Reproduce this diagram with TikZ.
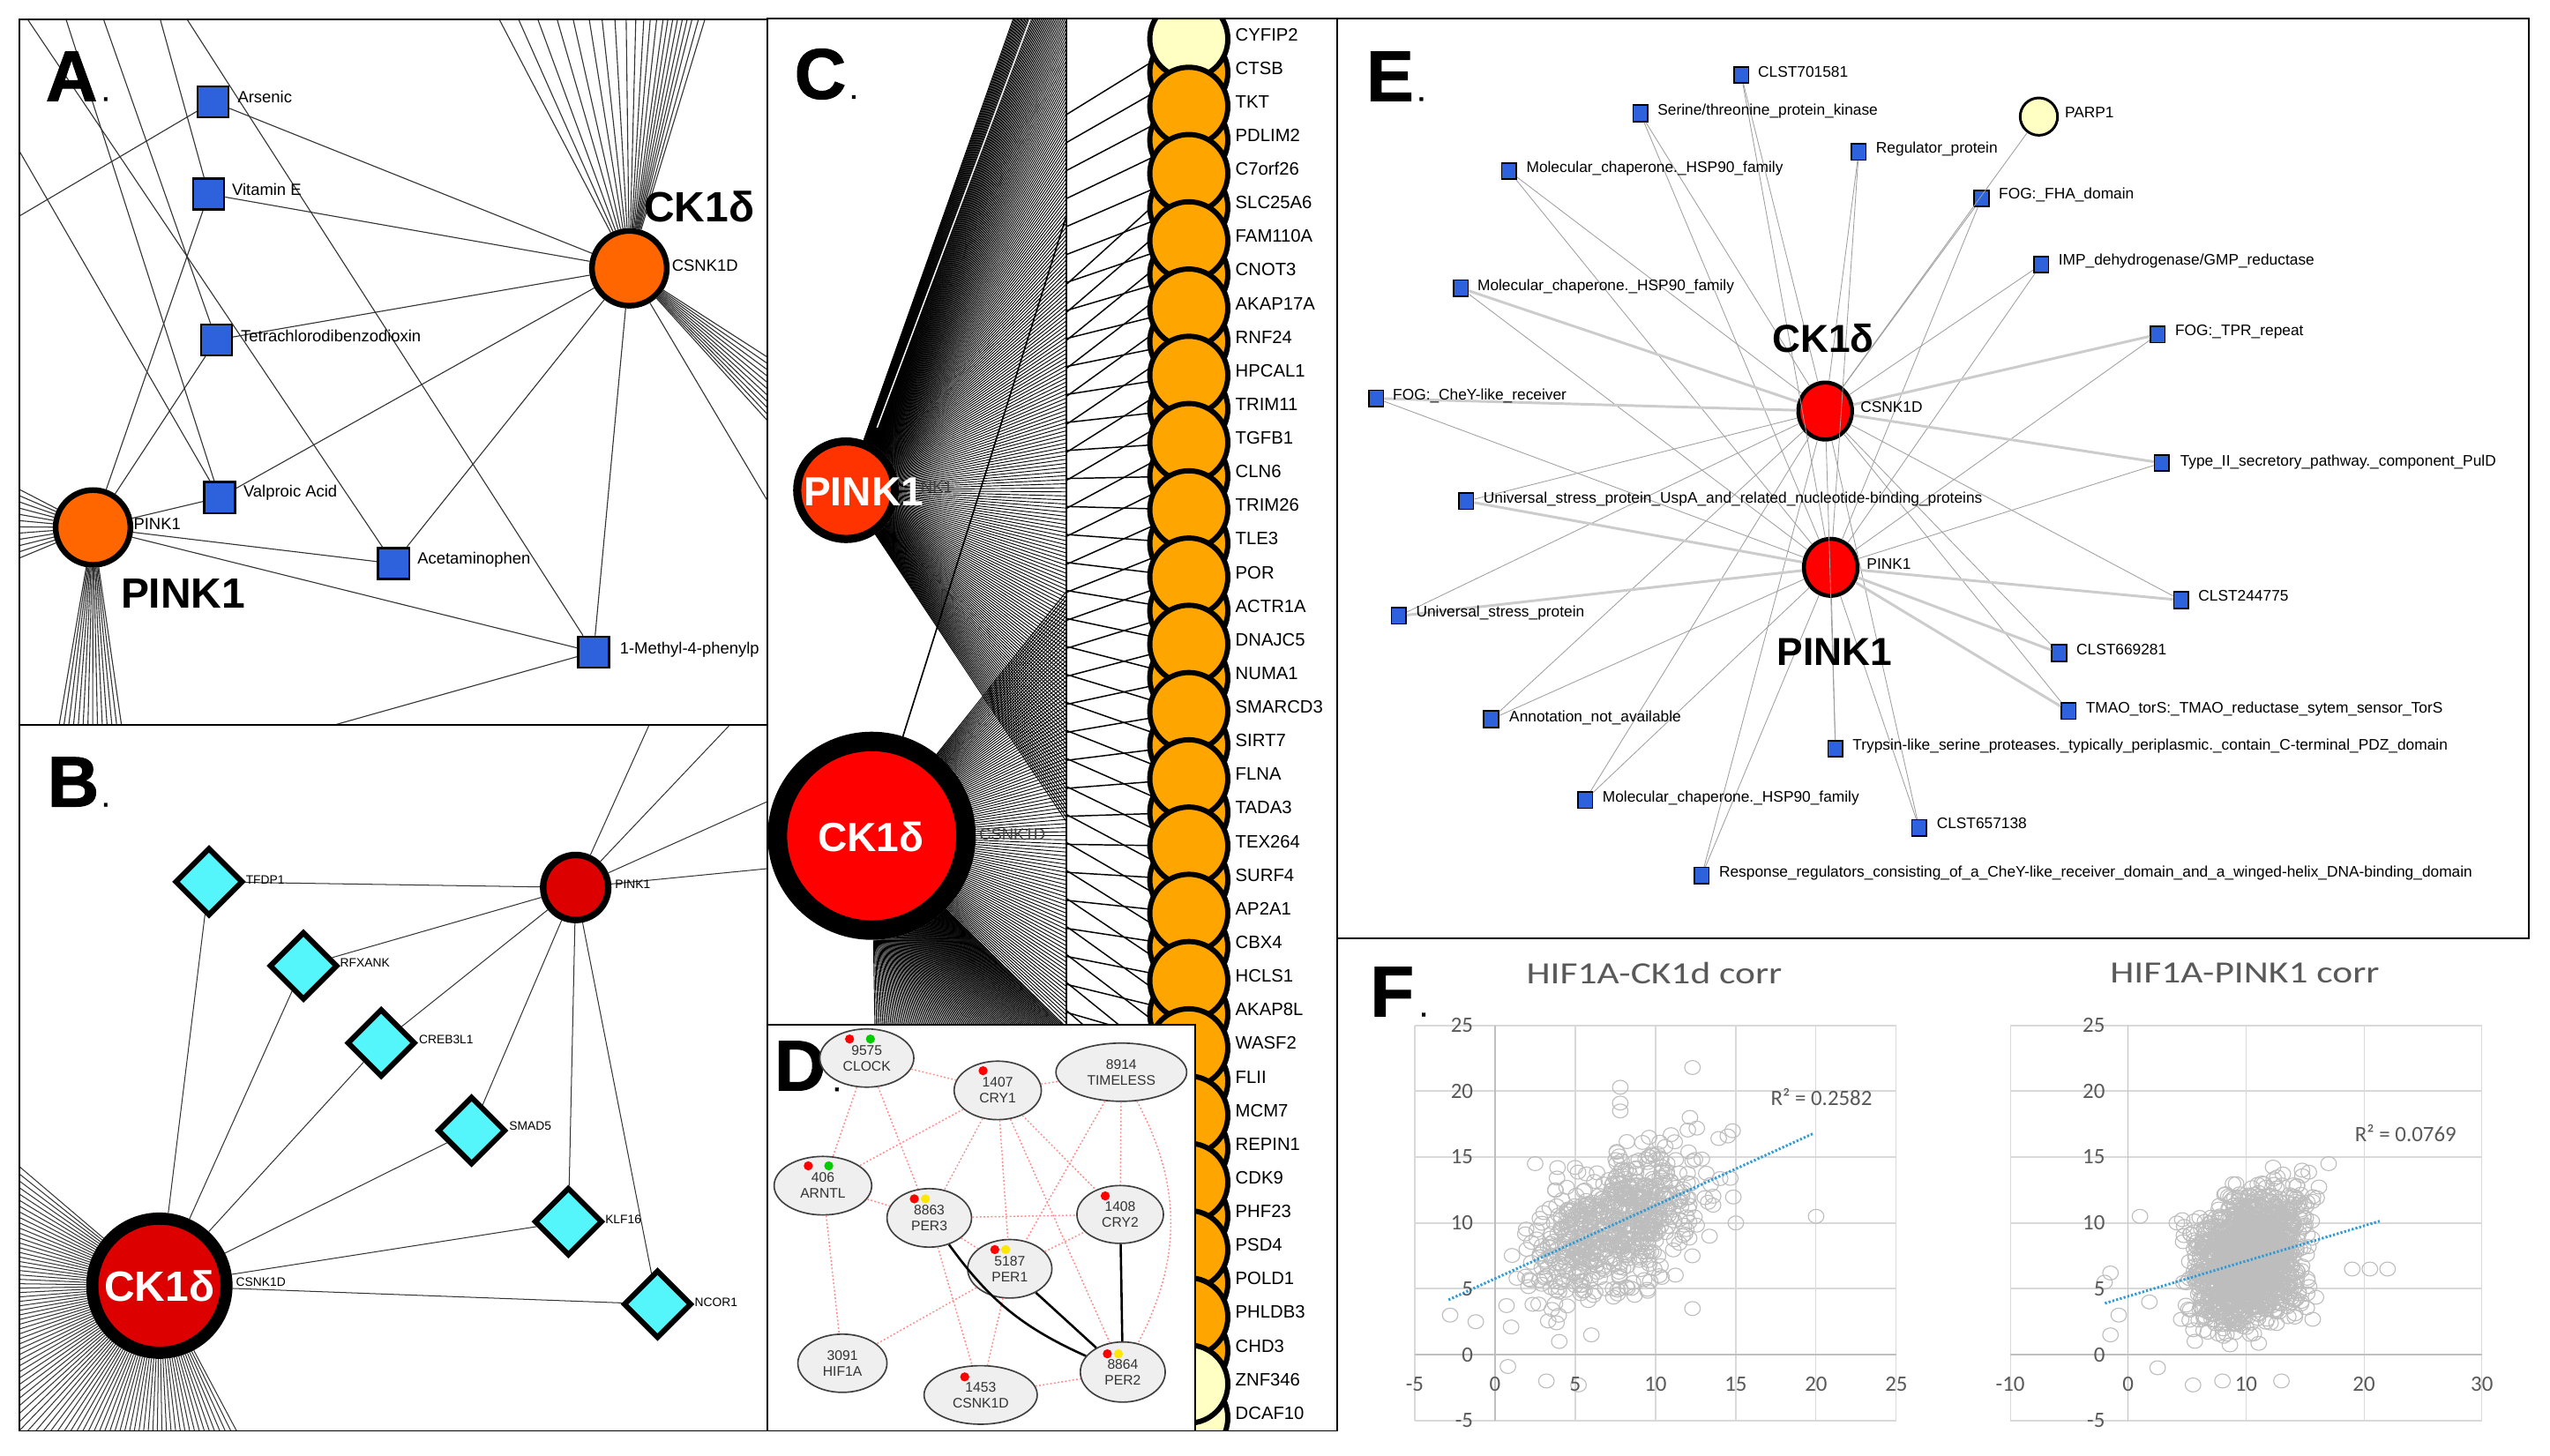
\documentclass[tikz,border=0pt]{standalone}
\usepackage{fontspec}
\setmainfont{Liberation Sans}
\newfontfamily\calib{Carlito}
\newfontfamily\heavyfont[FakeBold=1.2]{Liberation Sans}
\usepackage{graphicx}
\usetikzlibrary{shapes.geometric,calc}
\newcommand\fsz[1]{\fontsize{#1}{#1}\selectfont}
\definecolor{sqblue}{HTML}{2D62DC}
\definecolor{aorange}{HTML}{FF6600}
\definecolor{bred}{HTML}{DD0000}
\definecolor{cyanD}{HTML}{55F6FB}
\definecolor{pkred}{HTML}{FF3300}
\definecolor{colorange}{HTML}{FFA500}
\definecolor{colyellow}{HTML}{FFFFC4}
\definecolor{dfill}{HTML}{EFEFEF}
\definecolor{dedgec}{HTML}{FF8A8A}
\definecolor{xlgray}{HTML}{595959}
\definecolor{gridc}{HTML}{D9D9D9}
\definecolor{axisc}{HTML}{BFBFBF}
\definecolor{scatc}{HTML}{BDBDBD}
\definecolor{trendc}{HTML}{2E9AD6}
\tikzset{
 frame/.style={draw=black, line width=1pt},
 eA/.style={draw=black!80, line width=0.6pt},
 hubA/.style={circle, draw=black, line width=3.5pt, fill=aorange, minimum size=46pt, inner sep=0pt},
 sqA/.style={rectangle, draw=black, line width=1.3pt, fill=sqblue, minimum size=19pt, inner sep=0pt},
 lblA/.style={anchor=west, inner sep=0pt, font=\fsz{10}, text height=7.2pt, text depth=0pt},
 bigtxt/.style={font=\bfseries\fsz{26}, inner sep=0pt},
 letter/.style={font=\heavyfont\bfseries\fsz{44}, inner sep=0pt, anchor=base},
 period/.style={font=\heavyfont\bfseries\fsz{14}, inner sep=0pt, anchor=base},
 hubB/.style={circle, draw=black, fill=bred, inner sep=0pt},
 diaB/.style={diamond, aspect=1, draw=black, line width=3.3pt, fill=cyanD, minimum size=42pt, inner sep=0pt},
 eB/.style={draw=black!80, line width=0.55pt},
 lblB/.style={anchor=west, inner sep=0pt, font=\fsz{7.5}, text height=5.4pt, text depth=0pt},
 fan/.style={draw=black, line width=0.5pt},
 zig/.style={draw=black, line width=0.8pt},
 colnode/.style={circle, draw=black, line width=3.2pt, minimum size=48pt, inner sep=0pt},
 lblC/.style={anchor=west, inner sep=0pt, font=\fsz{11}, text height=7.9pt, text depth=0pt},
 lblCs/.style={anchor=west, inner sep=0pt, font=\fsz{10}, text=black!75, text height=7.2pt, text depth=0pt},
 dell/.style={ellipse, draw=black!75, line width=0.9pt, fill=dfill, inner sep=0pt, align=center, font=\fontsize{8.5}{9.8}\selectfont, text=black!80},
 dedge/.style={draw=dedgec, line width=0.8pt, dash pattern=on 1pt off 1.3pt},
 dsolid/.style={draw=black, line width=1.4pt},
 hubE/.style={ellipse, draw=black, line width=2.5pt, fill=red, minimum width=33pt, minimum height=35pt, inner sep=0pt},
 sqE/.style={rectangle, draw=black, line width=0.9pt, fill=sqblue, minimum width=9pt, minimum height=10pt, inner sep=0pt},
 eE/.style={draw=black!38, line width=0.45pt},
 eEt/.style={draw=black!20, line width=1.6pt},
 lblE/.style={anchor=west, inner sep=0pt, font=\fsz{9.4}, text height=6.7pt, text depth=0pt},
 bigE/.style={font=\bfseries\fsz{24}, inner sep=0pt},
 gridh/.style={draw=gridc, line width=1.2pt},
 gridv/.style={draw=gridc, line width=0.6pt},
 axl/.style={draw=axisc, line width=1.3pt},
 scat/.style={draw=scatc, line width=0.6pt},
 trendl/.style={draw=trendc, line width=1.6pt, dash pattern=on 1.2pt off 1.2pt},
 tickl/.style={font=\calib\fsz{13.5}, text=xlgray, inner sep=0pt},
 ftitle/.style={text=xlgray, inner sep=0pt}
}
\begin{document}
\begin{tikzpicture}[x=1pt,y=-1pt]
\useasboundingbox (0,0) rectangle (1568,895);
\fill[white] (0,0) rectangle (1568,895);

%%%%%%%%%%%%%%%% PANEL A
\begin{scope}
\clip (12,12) rectangle (472,446);
\node[hubA] (ckA) at (387,165) {};
\node[hubA] (pkA) at (57.2,324.4) {};
\node[sqA] (ars) at (131,62.6) {};
\node[sqA] (vite) at (128.3,119.4) {};
\node[sqA] (tcdd) at (133,209) {};
\node[sqA] (valp) at (135,306) {};
\node[sqA] (acet) at (242,346.6) {};
\node[sqA] (mptp) at (365,401) {};
\coordinate (aT1) at (15.7,10);
\coordinate (aT2) at (40,10);
\coordinate (aT3) at (63,10);
\coordinate (aT4) at (98,10);
\coordinate (aT5) at (113.8,10);
\coordinate (aL1) at (10,89.6);
\coordinate (aL2) at (10,134);
\coordinate (aB1) at (198,448);
\coordinate (aR1) at (474,311.5);
\draw[eA] (ars) -- (ckA);
\draw[eA] (vite) -- (ckA);
\draw[eA] (vite) -- (pkA);
\draw[eA] (tcdd) -- (ckA);
\draw[eA] (tcdd) -- (pkA);
\draw[eA] (valp) -- (ckA);
\draw[eA] (valp) -- (pkA);
\draw[eA] (acet) -- (ckA);
\draw[eA] (acet) -- (pkA);
\draw[eA] (mptp) -- (ckA);
\draw[eA] (mptp) -- (pkA);
\draw[eA] (aT1) -- (acet);
\draw[eA] (aT2) -- (valp);
\draw[eA] (aT3) -- (tcdd);
\draw[eA] (aT4) -- (vite);
\draw[eA] (aT5) -- (mptp);
\draw[eA] (aL1) -- (valp);
\draw[eA] (ars) -- (aL2);
\draw[eA] (mptp) -- (aB1);
\draw[eA] (ckA) -- (aR1);
\foreach \x in {306,318,330,342,352,362,370,378,385,391,396,400,404,408,411,414,417,420,423,426,430,434}
  \draw[eA] (ckA) -- (\x,10);
\foreach \y in {221,225,...,261} \draw[eA] (ckA) -- (474,\y);
\foreach \y in {300,304,...,344} \draw[eA] (pkA) -- (10,\y);
\foreach \x in {36,39,...,75} \draw[eA] (pkA) -- (\x,448);
\node[lblA] (arsL) at (146,59.5) {Arsenic};
\node[lblA] (viteL) at (142.5,116.5) {Vitamin E};
\node[lblA] (tcddL) at (148,206.5) {Tetrachlorodibenzodioxin};
\node[lblA] (valpL) at (149.5,302) {Valproic Acid};
\node[lblA] (acetL) at (256.5,343.5) {Acetaminophen};
\node[lblA] (mptpL) at (381,398.5) {1-Methyl-4-phenylp};
\node[lblA] (ckAL) at (413,163) {CSNK1D};
\node[lblA] (pkAL) at (82,322) {PINK1};
\node[bigtxt] (ckAB) at (430,127) {CK1δ};
\node[bigtxt] (pkAB) at (112.6,365) {PINK1};
\node[letter] (letA) at (44,62) {A};
\node[period] (perA) at (65,62) {.};
\end{scope}
\draw[frame] (12,12) rectangle (472,446);

%%%%%%%%%%%%%%%% PANEL B
\begin{scope}
\clip (12,446) rectangle (472,880);
\node[hubB, line width=7.5pt, minimum size=82.5pt] (ckB) at (98,790.7) {};
\node[hubB, line width=4pt, minimum size=40pt] (pkB) at (354,545.8) {};
\node[diaB] (tfdp) at (128.5,542.3) {};
\node[diaB] (rfx) at (186.6,594) {};
\node[diaB] (creb) at (234.4,641.4) {};
\node[diaB] (smad) at (290,695.3) {};
\node[diaB] (klf) at (349.5,751.3) {};
\node[diaB] (ncor) at (404.3,802.1) {};
\foreach \d in {tfdp,rfx,creb,smad,klf,ncor}{
  \draw[eB] (\d) -- (pkB);
  \draw[eB] (\d) -- (ckB);
}
\coordinate (bO1) at (400,444);
\coordinate (bO2) at (450.5,444);
\coordinate (bO3) at (474,492);
\coordinate (bO4) at (474,534);
\draw[eB] (pkB) -- (bO1);
\draw[eB] (pkB) -- (bO2);
\draw[eB] (pkB) -- (bO3);
\draw[eB] (pkB) -- (bO4);
\foreach \a in {62,63.8,...,221} \draw[eB] (ckB) -- ($(ckB)+(\a:300)$);
\node[font=\bfseries\fsz{26}, text=white, inner sep=0pt] (ckBt) at (98,790.7) {CK1δ};
\node[lblB] (tfdpL) at (151,541) {TFDP1};
\node[lblB] (rfxL) at (209,592) {RFXANK};
\node[lblB] (crebL) at (257.5,639.4) {CREB3L1};
\node[lblB] (smadL) at (313,692.2) {SMAD5};
\node[lblB] (klfL) at (372,749.6) {KLF16};
\node[lblB] (ncorL) at (427,800.7) {NCOR1};
\node[lblB] (ckBL) at (145,788.4) {CSNK1D};
\node[lblB] (pkBL) at (378,543.8) {PINK1};
\node[letter] (letB) at (45,496) {B};
\node[period] (perB) at (65,496) {.};
\end{scope}
\draw[frame] (12,446) rectangle (472,880);

%%%%%%%%%%%%%%%% PANEL C
\begin{scope}
\clip (472,11.5) rectangle (822,880);
\node[circle, draw=black, line width=5pt, fill=pkred, minimum size=60pt, inner sep=0pt] (pkC) at (520.2,301.5) {};
\node[circle, draw=black, line width=12pt, fill=red, minimum size=116pt, inner sep=0pt] (ckC) at (536,514) {};
\begin{scope}
\clip (472,11.5) rectangle (655.5,630);
\foreach \v in {-80,-77.5,...,505} \draw[fan] (pkC) -- (655.5,\v);
\foreach \v in {364,366.5,...,630} \draw[fan] (ckC) -- (655.5,\v);
\foreach \x in {538,539,...,656} \draw[fan] (ckC) -- (\x,632);
\draw[white, line width=0.8pt] (539.3,263) -- (633.7,11.3);
\coordinate (cUp) at (655.5,133.5);
\draw[line width=0.9pt] (ckC) -- (cUp);
\end{scope}
\draw[line width=1pt] (655.5,11.5) -- (655.5,630);
\foreach \i in {1,...,42}{
  \pgfmathsetmacro\yy{21+(\i-1)*20.68+3}
  \coordinate (cc\i) at (731,\yy);
}
\begin{scope}
\clip (655.5,11.5) rectangle (731,630);
\foreach \i in {1,...,42}{
  \pgfmathsetmacro\yy{21+(\i-1)*20.68+3}
  \pgfmathsetmacro\va{\yy+0.168*(301.5-\yy)}
  \pgfmathsetmacro\vb{\yy+0.168*(514-\yy)}
  \draw[zig] (655.5,\va) -- (cc\i);
  \ifnum\i>4 \draw[zig] (655.5,\vb) -- (cc\i);\fi
}
\end{scope}
\foreach \i in {2,4,...,42}{
  \ifnum\i>40 \def\colfill{colyellow}\else\def\colfill{colorange}\fi
  \node[colnode, fill=\colfill] (col\i) at (cc\i) {};
}
\foreach \i in {1,3,...,41}{
  \ifnum\i=1 \def\colfill{colyellow}\else\ifnum\i>40 \def\colfill{colyellow}\else\def\colfill{colorange}\fi\fi
  \node[colnode, fill=\colfill] (col\i) at (cc\i) {};
}
\foreach \nm [count=\i] in {CYFIP2,CTSB,TKT,PDLIM2,C7orf26,SLC25A6,FAM110A,CNOT3,AKAP17A,RNF24,HPCAL1,TRIM11,TGFB1,CLN6,TRIM26,TLE3,POR,ACTR1A,DNAJC5,NUMA1,SMARCD3,SIRT7,FLNA,TADA3,TEX264,SURF4,AP2A1,CBX4,HCLS1,AKAP8L,WASF2,FLII,MCM7,REPIN1,CDK9,PHF23,PSD4,POLD1,PHLDB3,CHD3,ZNF346,DCAF10}
  \node[lblC] (lab\i) at (759.5,{21+(\i-1)*20.68}) {\nm};
\node[lblCs] (pkCl) at (566,299.5) {NK1};
\node[lblCs] (ckCl) at (602,513) {CSNK1D};
\node[font=\bfseries\fsz{25}, text=white, inner sep=0pt] (pkCt) at (531,302.5) {PINK1};
\node[font=\bfseries\fsz{25}, text=white, inner sep=0pt] (ckCt) at (535.4,514.8) {CK1δ};
\node[letter] (letC) at (504.4,60.7) {C};
\node[period] (perC) at (525,60.7) {.};
\end{scope}
\draw[frame] (472,11.5) rectangle (822,880);

%%%%%%%%%%%%%%%% PANEL D
\draw[frame, fill=white] (472,630) rectangle (735,880);
\begin{scope}
\clip (472,630) rectangle (735,880);
\node[letter] (letD) at (492,670.6) {D};
\node[period] (perD) at (514.6,671) {.};
\node[dell, minimum width=57.8pt, minimum height=35.8pt] (clock) at (533,650.7) {9575\\CLOCK};
\node[dell, minimum width=53.6pt, minimum height=36pt] (cry1) at (613.5,670.6) {1407\\CRY1};
\node[dell, minimum width=80.4pt, minimum height=35.8pt] (tim) at (689.5,659.4) {8914\\TIMELESS};
\node[dell, minimum width=60pt, minimum height=36pt] (arntl) at (506,729.2) {406\\ARNTL};
\node[dell, minimum width=52pt, minimum height=36pt] (per3) at (571.4,749) {8863\\PER3};
\node[dell, minimum width=53.2pt, minimum height=35.6pt] (cry2) at (688.8,746.9) {1408\\CRY2};
\node[dell, minimum width=51.8pt, minimum height=36pt] (per1) at (620.9,780.3) {5187\\PER1};
\node[dell, minimum width=54.8pt, minimum height=35.8pt] (hif) at (518,838.4) {3091\\HIF1A};
\node[dell, minimum width=69.6pt, minimum height=36pt] (csnk) at (603,857.9) {1453\\CSNK1D};
\node[dell, minimum width=52.2pt, minimum height=37pt] (per2) at (690.4,843.8) {8864\\PER2};
\draw[dedge] (clock) -- (cry1);
\draw[dedge] (clock) -- (arntl);
\draw[dedge] (clock) -- (per3);
\draw[dedge] (cry1) -- (tim);
\draw[dedge] (cry1) -- (arntl);
\draw[dedge] (cry1) -- (per3);
\draw[dedge] (cry1) -- (per1);
\draw[dedge] (cry1) -- (cry2);
\draw[dedge] (cry1) -- (per2);
\draw[dedge] (tim) -- (cry2);
\draw[dedge] (tim) -- (per1);
\draw[dedge] (tim) to[bend left=28] (per2);
\draw[dedge] (arntl) -- (per3);
\draw[dedge] (arntl) -- (hif);
\draw[dedge] (per3) -- (cry2);
\draw[dedge] (per3) -- (per1);
\draw[dedge] (per3) -- (csnk);
\draw[dedge] (per1) -- (cry2);
\draw[dedge] (per1) -- (hif);
\draw[dedge] (per1) -- (csnk);
\draw[dedge] (csnk) -- (per2);
\draw[dsolid] (per3) to[bend right=15] (per2);
\draw[dsolid] (per1) -- (per2);
\draw[dsolid] (cry2) -- (per2);
\fill[red] (522.4,639) circle (2.8);
\fill[green!80!black] (535.2,639) circle (2.8);
\fill[red] (604.5,658.5) circle (2.8);
\fill[red] (497,717) circle (2.8);
\fill[green!80!black] (509.6,717) circle (2.8);
\fill[red] (562.2,737.3) circle (2.8);
\fill[yellow!90!orange] (569,737.3) circle (2.8);
\fill[red] (679.6,735.5) circle (2.8);
\fill[red] (611.7,768.5) circle (2.8);
\fill[yellow!90!orange] (618.4,768.5) circle (2.8);
\fill[red] (680.9,832.6) circle (2.8);
\fill[yellow!90!orange] (687.7,832.6) circle (2.8);
\fill[red] (593.2,846.8) circle (2.8);
\end{scope}

%%%%%%%%%%%%%%%% PANEL E
\draw[frame] (822,11.5) rectangle (1555,577);
\node[hubE] (ckE) at (1122.3,252.8) {};
\node[hubE] (pkE) at (1125.7,348.9) {};
\node[circle, draw=black, line width=1.6pt, fill=colyellow, minimum size=23pt, inner sep=0pt] (parp) at (1253.7,71.7) {};
\node[sqE] (e1) at (1070.7,46.1) {};
\node[sqE] (e2) at (1008.6,69.7) {};
\node[sqE] (e3) at (1142.9,93.4) {};
\node[sqE] (e4) at (927.9,105.2) {};
\node[sqE] (e5) at (1218.4,122) {};
\node[sqE] (e6) at (1255.1,162.7) {};
\node[sqE] (e7) at (898.3,177.2) {};
\node[sqE] (e8) at (1326.8,205.7) {};
\node[sqE] (e9) at (846.2,245) {};
\node[sqE] (e10) at (1329.2,284.7) {};
\node[sqE] (e11) at (901.6,308.2) {};
\node[sqE] (e12) at (860.1,378.8) {};
\node[sqE] (e13) at (1341.1,369.1) {};
\node[sqE] (e14) at (1266.1,401.6) {};
\node[sqE] (e15) at (916.9,442.3) {};
\node[sqE] (e16) at (1271.9,437.3) {};
\node[sqE] (e17) at (1128.6,460.5) {};
\node[sqE] (e18) at (974.7,492) {};
\node[sqE] (e19) at (1180.1,509.2) {};
\node[sqE] (e20) at (1046.4,538.5) {};
\foreach \i in {1,...,20}{
  \draw[eE] (e\i) -- (ckE);
  \draw[eE] (e\i) -- (pkE);
}
\foreach \i in {7,8,9,10} \draw[eEt] (e\i) -- (ckE);
\foreach \i in {11,12,13,14,16} \draw[eEt] (e\i) -- (pkE);
\draw[eE] (parp) -- (ckE);
\node[lblE] (e1L) at (1080.8,44) {CLST701581};
\node[lblE] (e2L) at (1019.1,67.6) {Serine/threonine\_protein\_kinase};
\node[lblE] (e3L) at (1153.4,91) {Regulator\_protein};
\node[lblE] (e4L) at (938.4,102.6) {Molecular\_chaperone.\_HSP90\_family};
\node[lblE] (e5L) at (1228.9,119) {FOG:\_FHA\_domain};
\node[lblE] (e6L) at (1265.6,159.6) {IMP\_dehydrogenase/GMP\_reductase};
\node[lblE] (e7L) at (908.3,175.3) {Molecular\_chaperone.\_HSP90\_family};
\node[lblE] (e8L) at (1337.3,202.8) {FOG:\_TPR\_repeat};
\node[lblE] (e9L) at (856.3,242.4) {FOG:\_CheY-like\_receiver};
\node[lblE] (e10L) at (1340.4,283.2) {Type\_II\_secretory\_pathway.\_component\_PulD};
\node[lblE] (e11L) at (912,305.8) {Universal\_stress\_protein\_UspA\_and\_related\_nucleotide-binding\_proteins};
\node[lblE] (e12L) at (870.6,376.3) {Universal\_stress\_protein};
\node[lblE] (e13L) at (1351.6,366.5) {CLST244775};
\node[lblE] (e14L) at (1276.6,399.3) {CLST669281};
\node[lblE] (e15L) at (927.9,440.5) {Annotation\_not\_available};
\node[lblE] (e16L) at (1282.4,435) {TMAO\_torS:\_TMAO\_reductase\_sytem\_sensor\_TorS};
\node[lblE] (e17L) at (1139,458) {Trypsin-like\_serine\_proteases.\_typically\_periplasmic.\_contain\_C-terminal\_PDZ\_domain};
\node[lblE] (e18L) at (985.2,489.8) {Molecular\_chaperone.\_HSP90\_family};
\node[lblE] (e19L) at (1190.7,506.2) {CLST657138};
\node[lblE] (e20L) at (1056.9,536) {Response\_regulators\_consisting\_of\_a\_CheY-like\_receiver\_domain\_and\_a\_winged-helix\_DNA-binding\_domain};
\node[lblE] (parpL) at (1269.5,69) {PARP1};
\node[lblE] (ckEL) at (1143.8,250) {CSNK1D};
\node[lblE] (pkEL) at (1147.7,347) {PINK1};
\node[bigE] (ckEB) at (1121,208) {CK1δ};
\node[bigE] (pkEB) at (1128,401) {PINK1};
\node[letter] (letE) at (854.7,62) {E};
\node[period] (perE) at (874,62) {.};

%%%%%%%%%%%%%%%% PANEL F
\node[letter] (letF) at (856,625) {F};
\node[period] (perF) at (875.4,625) {.};
\node[ftitle] (t1) at (1017.2,598.4) {\scalebox{1.24}[1]{\calib\fsz{19}HIF1A-CK1d corr}};
\node[ftitle] (t2) at (1380.3,598.4) {\scalebox{1.24}[1]{\calib\fsz{19}HIF1A-PINK1 corr}};
% chart 1 grid
\foreach \v in {25,20,15,10,5,-5} \draw[gridh] (869.95,{833.1-8.1*\v}) -- (1166,{833.1-8.1*\v});
\foreach \u in {-5,5,10,15,20,25} \draw[gridv] ({919.3+9.87*\u},630.6) -- ({919.3+9.87*\u},873.6);
\draw[axl] (869.95,833.1) -- (1166,833.1);
\draw[draw=axisc, line width=0.7pt] (919.3,630.6) -- (919.3,873.6);
% chart 2 grid
\foreach \v in {25,20,15,10,5,-5} \draw[gridh] (1236.1,{833.1-8.1*\v}) -- (1526.1,{833.1-8.1*\v});
\foreach \u in {-10,10,20,30} \draw[gridv] ({1308.6+7.25*\u},630.6) -- ({1308.6+7.25*\u},873.6);
\draw[axl] (1236.1,833.1) -- (1526.1,833.1);
\draw[draw=axisc, line width=0.7pt] (1308.6,630.6) -- (1308.6,873.6);
% scatter 1
\pgfmathsetseed{12}
\begin{scope}
\clip (869.95,630.6) rectangle (1166,873.6);
\foreach \k in {1,...,650}{
  \pgfmathsetmacro\xa{7.3+2.7*(rand+rand+rand)}
  \pgfmathsetmacro\ya{5.77+0.556*\xa+2.4*(rand+rand+rand)}
  \draw[scat] ({919.3+9.87*\xa},{833.1-8.1*\ya}) ellipse (4.8 and 4.3);
}
\foreach \p/\q in {20/10.5,12.3/21.8,7.8/20.3,7.8/18.5,7.8/19.1,-2.8/3,0.8/-0.9,3.2/-2,5.2/-2.3,2.5/14.5,12.3/3.5,15/10,14.8/17,14.5/16.6,-1.2/2.5,1/2.1,4/1,6/1.5}
  \draw[scat] ({919.3+9.87*\p},{833.1-8.1*\q}) ellipse (4.8 and 4.3);
\end{scope}
% scatter 2
\begin{scope}
\clip (1236.1,630.6) rectangle (1526.1,873.6);
\foreach \k in {1,...,1600}{
  \pgfmathsetmacro\xa{10.2+2.2*(rand+rand+rand)}
  \pgfmathsetmacro\ya{4.43+0.27*\xa+2.3*(rand+rand+rand)}
  \draw[scat] ({1308.6+7.25*\xa},{833.1-8.1*\ya}) ellipse (4.8 and 4.3);
}
\foreach \p/\q in {19/6.5,20.5/6.5,22/6.5,1/10.5,-2/5.5,-1.5/6.2,-1.5/1.5,-0.8/3,17/14.5,8/-2,13/-2,5.5/-2.3,2.5/-1,1.8/4}
  \draw[scat] ({1308.6+7.25*\p},{833.1-8.1*\q}) ellipse (4.8 and 4.3);
\end{scope}
\coordinate (tr1a) at (890.7,799.4);
\coordinate (tr1b) at (1115.2,697);
\coordinate (tr2a) at (1294.3,801.5);
\coordinate (tr2b) at (1463.9,750.8);
\draw[trendl] (tr1a) -- (tr1b);
\draw[trendl] (tr2a) -- (tr2b);
\foreach \v in {25,20,15,10,5,0,-5}{
  \node[tickl, anchor=east] (ya\v) at (906,{833.1-8.1*\v}) {\v};
  \node[tickl, anchor=east] (yb\v) at (1294.5,{833.1-8.1*\v}) {\v};
}
\foreach \u in {-5,0,5,10,15,20,25}
  \node[tickl] (xa\u) at ({919.3+9.87*\u},851.5) {\u};
\foreach \u in {-10,0,10,20,30}
  \node[tickl] (xb\u) at ({1308.6+7.25*\u},851.5) {\u};
\node[tickl] (r1) at (1120,674.9) {R² = 0.2582};
\node[tickl] (r2) at (1479.2,697) {R² = 0.0769};
\end{tikzpicture}
\end{document}
